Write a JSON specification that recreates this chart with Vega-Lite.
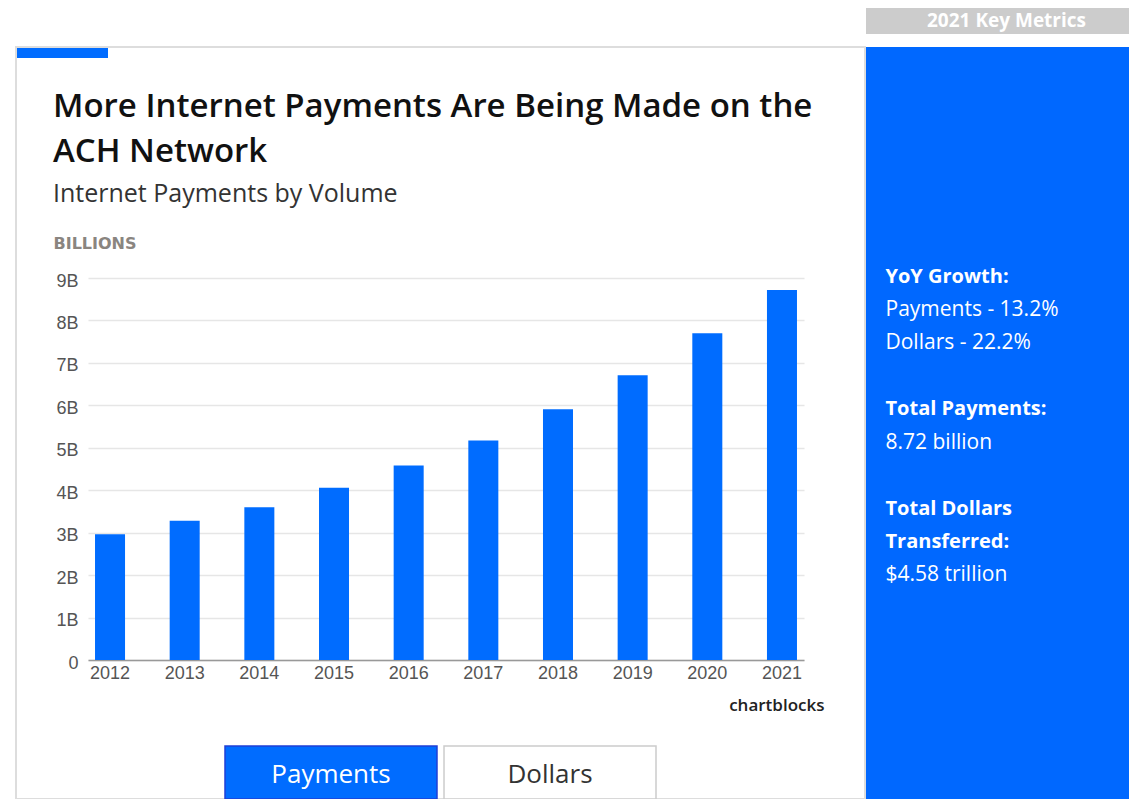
{
  "$schema": "https://vega.github.io/schema/vega-lite/v6.json",
  "background": "white",
  "padding": {"left": 15, "top": 8, "right": 0, "bottom": 0},
  "config": {"view": {"stroke": null}},
  "columns": 2,
  "align": "each",
  "spacing": {"row": 12, "column": 0},
  "concat": [
    {
      "width": 849,
      "height": 26,
      "data": {"values": []},
      "mark": {"type": "text"},
      "encoding": {}
    },
    {
      "width": 265,
      "height": 26,
      "view": {"fill": "#cccccc", "stroke": null},
      "data": {"values": [{"label": "2021 Key Metrics"}]},
      "mark": {"type": "text", "font": "Open Sans", "fontSize": 19, "fontWeight": "bold", "color": "#ffffff", "dx": 8},
      "encoding": {"text": {"field": "label"}}
    },
    {
      "width": 849,
      "height": 752,
      "view": {"stroke": "#dddddd", "strokeWidth": 2},
      "title": {
        "text": ["More Internet Payments Are Being Made on the", "ACH Network"],
        "subtitle": "Internet Payments by Volume",
        "anchor": "start",
        "frame": "group",
        "orient": "top",
        "offset": -164,
        "dx": 37,
        "dy": -4,
        "font": "Open Sans",
        "fontSize": 33,
        "fontWeight": 600,
        "color": "#111111",
        "lineHeight": 45,
        "subtitleFont": "Open Sans",
        "subtitleFontSize": 25,
        "subtitleFontWeight": "normal",
        "subtitleColor": "#333333",
        "subtitlePadding": 13
      },
      "layer": [
        {
          "data": {"values": [{"part": "accent"}]},
          "mark": {"type": "rect", "color": "#006cff"},
          "encoding": {
            "x": {"datum": 0, "type": "quantitative", "scale": {"domain": [0, 1], "range": [1, 92]}, "axis": null},
            "x2": {"datum": 1},
            "y": {"datum": 0, "type": "quantitative", "scale": {"domain": [0, 1], "range": [1, 11]}, "axis": null},
            "y2": {"datum": 1}
          }
        },
        {
          "data": {"values": [
            {"year": "2012", "payments": 2.96},
            {"year": "2013", "payments": 3.28},
            {"year": "2014", "payments": 3.60},
            {"year": "2015", "payments": 4.06},
            {"year": "2016", "payments": 4.58},
            {"year": "2017", "payments": 5.17},
            {"year": "2018", "payments": 5.91},
            {"year": "2019", "payments": 6.71},
            {"year": "2020", "payments": 7.70},
            {"year": "2021", "payments": 8.72}
          ]},
          "mark": {"type": "bar", "color": "#006cff"},
          "encoding": {
            "x": {
              "field": "year", "type": "ordinal",
              "scale": {"range": [72, 788], "paddingInner": 0.598, "paddingOuter": 0.094},
              "axis": {
                "orient": "bottom", "offset": -139,
                "domainColor": "#999999", "domainWidth": 1.5,
                "ticks": false, "grid": false, "labelAngle": 0,
                "labelFont": "Liberation Sans", "labelFontSize": 18, "labelColor": "#555555", "labelPadding": 4,
                "title": "chartblocks",
                "titleX": 808, "titleY": 45, "titleAlign": "right", "titleBaseline": "middle", "titleAnchor": null,
                "titleFont": "Open Sans", "titleFontSize": 17, "titleFontWeight": 600, "titleColor": "#222222"
              }
            },
            "y": {
              "field": "payments", "type": "quantitative",
              "scale": {"domain": [0, 9], "range": [613, 231], "nice": false, "zero": true},
              "axis": {
                "orient": "left", "offset": -72,
                "values": [0, 1, 2, 3, 4, 5, 6, 7, 8, 9],
                "labelExpr": "datum.value === 0 ? '0' : datum.value + 'B'",
                "domain": false, "ticks": false,
                "grid": true, "gridColor": "#e6e6e6", "gridWidth": 1.5,
                "labelFont": "Liberation Sans", "labelFontSize": 18, "labelColor": "#555555", "labelPadding": 10, "labelOffset": 3,
                "title": "BILLIONS", "titleAngle": 0, "titleAlign": "left", "titleBaseline": "middle",
                "titleX": -35, "titleY": 196,
                "titleFont": "DejaVu Sans", "titleFontSize": 16, "titleFontWeight": "bold", "titleColor": "#8a8580"
              }
            }
          }
        },
        {
          "data": {"values": [
            {"view": "Payments", "state": "active"},
            {"view": "Dollars", "state": "inactive"}
          ]},
          "mark": {"type": "rect", "strokeWidth": 1.5},
          "encoding": {
            "x": {"field": "view", "type": "nominal", "sort": null,
                  "scale": {"type": "band", "domain": ["Payments", "Dollars"], "range": [209, 640], "paddingInner": 0.032, "paddingOuter": 0},
                  "axis": null},
            "y": {"datum": "buttons", "type": "nominal",
                  "scale": {"type": "band", "range": [699, 752], "paddingInner": 0, "paddingOuter": 0},
                  "axis": null},
            "color": {"field": "state", "type": "nominal", "scale": {"domain": ["active", "inactive"], "range": ["#006cff", "#ffffff"]}, "legend": null},
            "stroke": {"field": "state", "type": "nominal", "scale": {"domain": ["active", "inactive"], "range": ["#1f3fd6", "#cccccc"]}, "legend": null}
          }
        },
        {
          "data": {"values": [
            {"view": "Payments", "state": "active"},
            {"view": "Dollars", "state": "inactive"}
          ]},
          "mark": {"type": "text", "font": "Open Sans", "fontSize": 26, "baseline": "middle", "dy": 2},
          "encoding": {
            "x": {"field": "view", "type": "nominal", "sort": null,
                  "scale": {"type": "band", "domain": ["Payments", "Dollars"], "range": [209, 640], "paddingInner": 0.032, "paddingOuter": 0},
                  "axis": null},
            "y": {"datum": "buttons", "type": "nominal",
                  "scale": {"type": "band", "range": [699, 752], "paddingInner": 0, "paddingOuter": 0},
                  "axis": null},
            "text": {"field": "view"},
            "color": {"field": "state", "type": "nominal", "scale": {"domain": ["active", "inactive"], "range": ["#ffffff", "#333333"]}, "legend": null}
          }
        }
      ],
      "resolve": {
        "scale": {"x": "independent", "y": "independent", "color": "independent", "stroke": "independent"},
        "axis": {"x": "independent", "y": "independent"}
      }
    },
    {
      "width": 265,
      "height": 753,
      "view": {"fill": "#0068ff", "stroke": null},
      "data": {"values": [
        {"line": 0, "kind": "label", "text": "YoY Growth:"},
        {"line": 1, "kind": "value", "text": "Payments - 13.2%"},
        {"line": 2, "kind": "value", "text": "Dollars - 22.2%"},
        {"line": 4, "kind": "label", "text": "Total Payments:"},
        {"line": 5, "kind": "value", "text": "8.72 billion"},
        {"line": 7, "kind": "label", "text": "Total Dollars"},
        {"line": 8, "kind": "label", "text": "Transferred:"},
        {"line": 9, "kind": "value", "text": "$4.58 trillion"}
      ]},
      "layer": [
        {
          "transform": [{"filter": "datum.kind === 'label'"}],
          "mark": {"type": "text", "align": "left", "baseline": "middle", "font": "Open Sans", "fontSize": 20, "fontWeight": "bold", "color": "#ffffff", "dx": -113},
          "encoding": {
            "y": {"field": "line", "type": "quantitative", "scale": {"domain": [0, 9], "range": [230, 528], "nice": false, "zero": false}, "axis": null},
            "text": {"field": "text"}
          }
        },
        {
          "transform": [{"filter": "datum.kind === 'value'"}],
          "mark": {"type": "text", "align": "left", "baseline": "middle", "font": "Open Sans", "fontSize": 21, "color": "#ffffff", "dx": -113},
          "encoding": {
            "y": {"field": "line", "type": "quantitative", "scale": {"domain": [0, 9], "range": [230, 528], "nice": false, "zero": false}, "axis": null},
            "text": {"field": "text"}
          }
        }
      ]
    }
  ]
}
